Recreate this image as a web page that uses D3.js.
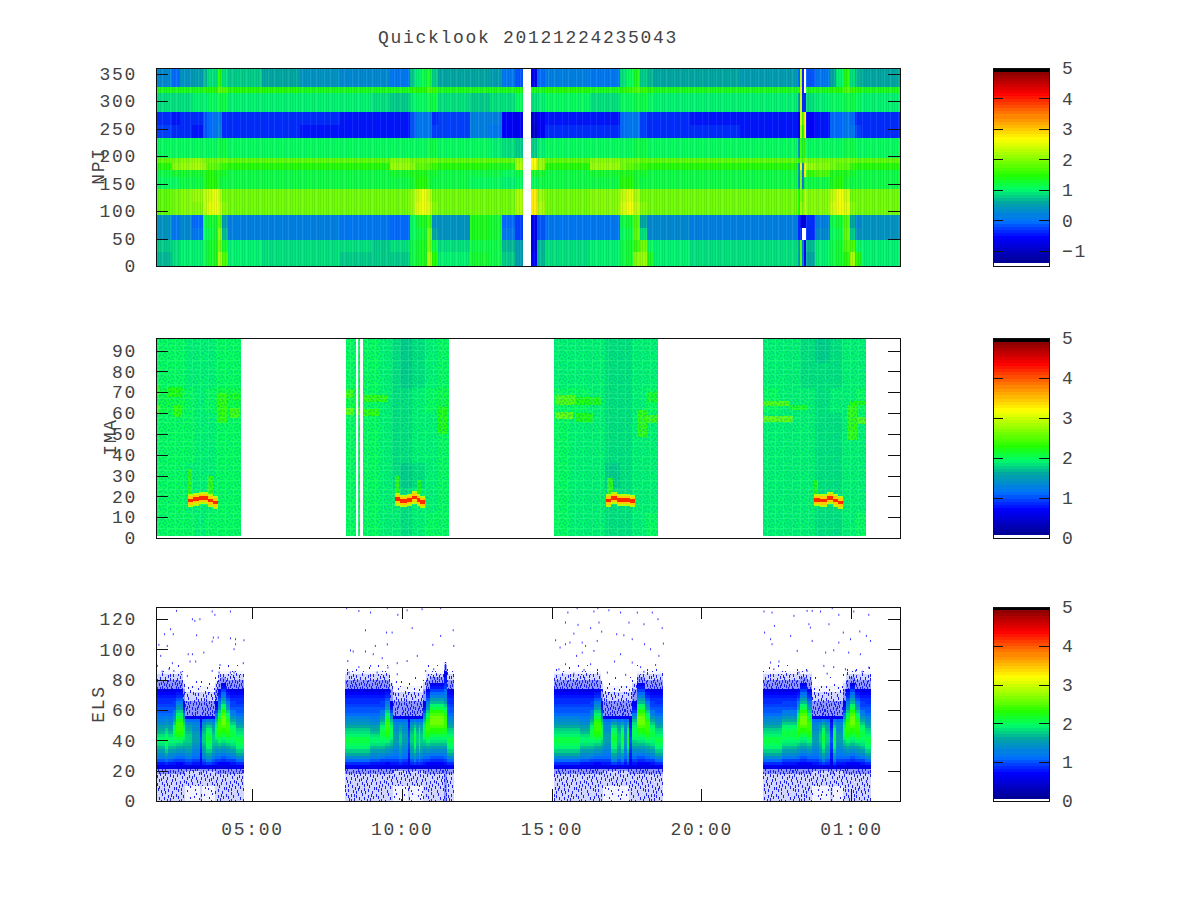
<!DOCTYPE html>
<html lang="en">
<head>
<meta charset="UTF-8">
<title>Quicklook 20121224235043</title>
<script src="https://d3js.org/d3.v7.min.js"></script>
<style>
  html, body { margin: 0; padding: 0; background: #fff; }
  svg { display: block; }
  text { font-family: "Liberation Mono", monospace; font-size: 18px; letter-spacing: 1.7px; fill: #444; }
  .axis path, .axis line { stroke: #111; stroke-width: 1px; shape-rendering: crispEdges; }
  .cells rect { shape-rendering: crispEdges; }
</style>
</head>
<body>
<div id="chart"></div>
<script>
// time axis, in hours from the start of the first day (25 = 01:00 next day)
const hourDomain = [1.79, 26.64];
const hourTicks = [5, 10, 15, 20, 25];
const hourLabels = ["05:00", "10:00", "15:00", "20:00", "01:00"];

const npiTicks = [0, 50, 100, 150, 200, 250, 300, 350];
const imaTicks = [0, 10, 20, 30, 40, 50, 60, 70, 80, 90];
const elsTicks = [0, 20, 40, 60, 80, 100, 120];
const npiBarTicks = [-1, 0, 1, 2, 3, 4, 5];
const barTicks = [0, 1, 2, 3, 4, 5];

// palette, position along the colour bar -> colour
const paletteStops = [0.015, 0.15, 0.23, 0.32, 0.39, 0.46, 0.535, 0.645, 0.75, 0.87, 0.98];
const paletteColours = ["#000090", "#0000ff", "#0070ff", "#00a8a0", "#00ff66", "#20ff00", "#7fff00", "#ffff00", "#ff9000", "#ff0000", "#8b0000"];

// NPI: row edges, column edges, then one list per column (bottom row first)
const npiRowEdges = [0, 25, 47, 70, 93, 117, 140, 162, 175, 187, 196, 233, 256, 280, 315, 325, 360];
const npiColEdges = [1.79, 2.33, 2.60, 3.00, 3.36, 3.50, 3.70, 3.86, 4.00, 4.20, 5.33, 6.60, 7.94, 9.01, 9.61, 10.28, 10.44,
  10.64, 10.84, 11.01, 11.21, 12.28, 12.95, 13.35, 13.78, 14.05, 14.32, 14.52, 14.78, 16.29, 17.29, 17.49, 17.72, 17.95,
  18.19, 18.39, 19.62, 21.29, 23.23, 23.30, 23.36, 23.43, 23.50, 23.80, 24.30, 24.50, 24.74, 24.97, 25.13, 25.33, 26.64];
const npiGap = new Array(16).fill(null);
const npiCells = [
  [.72,.75,.35,.35,1.85,1.85,1.05,1.15,1.45,1.8,1.05,-.2,-.3,.85,1.35,.3],
  [.88,.85,.1,.05,1.95,1.95,1.1,1.25,2.05,1.95,1.05,-.3,-.4,.9,1.35,.0],
  [.95,.95,.3,.25,2.0,2.05,1.15,1.3,2.15,2.05,1.05,-.35,-.35,.9,1.35,.35],
  [1.0,1.0,.05,.0,2.0,2.1,1.2,1.3,2.2,2.1,1.05,-.4,-.35,.95,1.4,.45],
  [1.2,1.15,1.1,1.15,2.3,2.3,1.4,1.35,2.0,1.95,1.05,-.1,-.1,1.0,1.45,.7],
  [1.3,1.3,1.2,1.25,2.55,2.45,1.5,1.45,1.85,1.95,1.1,.0,.0,1.05,1.5,.85],
  [1.4,1.35,1.25,1.3,2.6,2.6,1.5,1.4,1.8,1.95,1.1,.05,.05,1.05,1.5,.9],
  [2.2,1.9,2.0,1.7,2.45,2.3,1.3,1.35,1.7,1.95,1.2,.15,.1,1.2,1.8,1.5],
  [1.7,1.25,.7,.45,2.05,1.95,1.2,1.25,1.55,1.9,1.15,-.3,-.35,1.2,1.7,.9],
  [.95,.95,.2,.2,1.9,1.9,1.15,1.2,1.5,1.85,1.1,-.35,-.35,1.0,1.45,.75],
  [.88,.88,.15,.15,1.9,1.9,1.15,1.2,1.5,1.85,1.1,-.35,-.35,1.0,1.45,.6],
  [.85,.85,.15,.15,1.9,1.9,1.15,1.2,1.5,1.85,1.1,-.4,-.35,.95,1.4,.4],
  [.82,.85,.1,.1,1.9,1.9,1.15,1.2,1.5,1.85,1.1,-.4,-.4,.95,1.4,.3],
  [.8,.82,.05,.05,1.9,1.9,1.15,1.2,1.5,1.85,1.1,-.4,-.4,.85,1.35,.25],
  [.8,.85,.0,.0,1.95,1.95,1.15,1.3,2.1,2.05,1.1,-.45,-.45,.75,1.35,.1],
  [1.2,1.15,1.1,1.1,2.1,2.1,1.3,1.35,2.0,1.95,1.05,-.1,-.1,.95,1.45,.8],
  [1.3,1.25,1.2,1.25,2.5,2.4,1.45,1.4,1.85,1.95,1.1,.05,.05,1.1,1.5,.95],
  [1.4,1.35,1.3,1.35,2.6,2.6,1.5,1.4,1.8,1.95,1.1,.1,.1,1.1,1.5,1.15],
  [2.2,1.9,1.9,1.6,2.4,2.3,1.3,1.3,1.7,1.95,1.2,.1,.1,1.2,1.65,1.3],
  [1.45,1.2,.55,.4,2.0,1.95,1.2,1.25,1.55,1.9,1.15,-.25,-.3,1.15,1.6,.8],
  [.95,.9,.35,.4,1.9,1.9,1.15,1.2,1.5,1.85,1.1,-.25,-.2,.9,1.4,.55],
  [1.25,1.2,1.35,1.35,1.9,1.95,1.1,1.2,1.45,1.8,1.05,.15,.15,.8,1.35,.6],
  [1.2,1.15,1.3,1.3,1.9,1.9,1.05,1.15,1.4,1.75,1.0,.1,.15,.85,1.35,.5],
  [.75,.7,.05,.0,1.9,1.9,1.0,1.1,1.35,1.8,.85,-.5,-.5,.9,1.35,.05],
  [.5,.5,-.2,-.2,2.2,2.2,1.05,1.2,2.2,2.15,.75,-.65,-.65,1.05,1.5,-.15],
  npiGap,
  [-.5,-.7,-.6,-.6,2.8,2.8,1.1,1.3,2.6,2.7,.8,-.9,-.8,.9,1.35,-.6],
  [.7,.7,-.1,-.1,2.2,2.15,1.15,1.25,2.1,2.1,1.0,-.55,-.55,1.0,1.4,-.05],
  [.88,.88,.1,.1,1.9,1.9,1.15,1.2,1.5,1.85,1.1,-.35,-.4,1.05,1.45,.2],
  [.95,.95,.1,.1,2.05,2.05,1.2,1.3,2.1,2.05,1.1,-.3,-.4,.9,1.4,.1],
  [1.2,1.2,1.05,1.15,2.45,2.35,1.45,1.4,1.95,1.95,1.1,.0,.0,1.05,1.5,.85],
  [1.3,1.25,1.2,1.3,2.6,2.55,1.5,1.4,1.8,1.95,1.1,.05,.05,1.1,1.55,1.1],
  [2.0,1.6,1.8,1.7,2.3,2.2,1.3,1.3,1.65,1.9,1.15,.1,.1,1.2,1.7,1.4],
  [2.1,1.9,.85,.55,2.0,1.95,1.2,1.25,1.55,1.85,1.15,-.2,-.25,1.15,1.6,.8],
  [1.35,1.05,.3,.25,1.9,1.9,1.15,1.2,1.5,1.85,1.1,-.3,-.3,1.05,1.45,.65],
  [.95,.95,.25,.25,1.9,1.9,1.15,1.2,1.5,1.85,1.1,-.3,-.35,1.0,1.4,.55],
  [.92,.92,.2,.2,1.9,1.9,1.15,1.2,1.5,1.85,1.1,-.35,-.4,.95,1.4,.55],
  [.88,.88,.15,.15,1.9,1.9,1.15,1.2,1.5,1.85,1.1,-.4,-.4,.95,1.4,.5],
  [.5,.6,-.3,-.3,1.5,1.5,.4,.5,.5,1.5,.4,-.6,-.6,.5,1.4,.0],
  [1.7,1.7,-.3,-.6,2.1,1.9,1.9,1.9,2.6,1.9,1.6,2.2,2.4,2.4,2.6,2.3],
  [.2,.2,null,-.7,1.9,1.8,.2,.2,.2,1.7,1.3,1.5,1.8,-.3,-.3,-.3],
  [-.5,-.5,null,-.7,2.3,2.3,1.2,2.7,2.7,2.0,1.6,2.6,2.7,-.3,null,null],
  [.6,.7,-.3,-.3,2.0,2.0,1.15,1.6,2.1,1.95,1.05,-.5,-.5,.9,1.4,-.1],
  [.95,1.0,.25,.2,2.05,2.05,1.2,1.7,2.0,1.95,1.05,-.4,-.4,.95,1.4,.05],
  [1.2,1.2,1.05,1.15,2.4,2.3,1.35,1.35,1.95,1.95,1.1,-.05,-.05,1.05,1.5,.6],
  [1.3,1.25,1.2,1.3,2.6,2.6,1.5,1.4,1.85,1.95,1.1,.0,.0,1.1,1.5,.95],
  [1.45,1.7,1.85,1.7,2.5,2.4,1.3,1.35,1.75,1.95,1.15,.1,.05,1.2,1.7,1.5],
  [2.2,1.7,.75,.55,2.0,1.95,1.2,1.25,1.55,1.9,1.15,.05,.0,1.15,1.6,.9],
  [1.45,1.1,.35,.3,1.9,1.9,1.15,1.2,1.5,1.85,1.1,-.25,-.3,1.05,1.45,.7],
  [.95,.95,.35,.35,1.9,1.9,1.15,1.2,1.5,1.85,1.1,-.35,-.35,.95,1.4,.6]
];

// IMA: coarse background, one [start, end] per column, one list per column
const imaRowEdges = [1, 12, 24, 36, 48, 60, 72, 84, 96];
const imaColSpans = [
  [1.79,2.26],[2.26,2.76],[2.76,3.10],[3.10,3.43],[3.43,3.76],[3.76,4.20],[4.20,4.63],
  [8.14,8.47],[8.55,8.61],[8.71,9.27],[9.27,9.67],[9.67,9.94],[9.94,10.34],[10.34,10.78],[10.78,11.21],[11.21,11.59],
  [15.10,15.62],[15.62,16.29],[16.29,16.79],[16.79,17.29],[17.29,17.69],[17.69,18.12],[18.12,18.57],
  [22.08,22.63],[22.63,23.30],[23.30,23.80],[23.80,24.30],[24.30,24.70],[24.70,25.13],[25.13,25.50]
];
const imaCells = [
  [2.0,2.0,2.0,2.0,2.0,2.05,2.0,2.0],[2.0,2.0,2.0,2.0,2.0,2.05,2.0,1.98],
  [1.98,1.95,1.95,1.98,1.98,1.98,1.95,1.95],[1.95,1.92,1.9,1.9,1.9,1.9,1.9,1.88],
  [1.98,1.95,1.95,1.95,1.95,1.98,1.95,1.92],[2.0,2.0,2.0,2.0,2.0,2.05,2.0,1.98],[2.0,2.0,2.0,2.0,2.0,2.1,2.0,2.0],
  [2.0,2.0,2.0,2.0,2.0,2.1,2.0,2.0],[2.0,2.0,2.0,2.0,2.0,2.1,2.0,2.0],
  [1.98,1.98,1.98,1.98,1.98,2.0,1.98,1.98],[1.95,1.95,1.92,1.92,1.92,1.95,1.92,1.92],
  [1.9,1.88,1.85,1.85,1.85,1.85,1.85,1.82],[1.82,1.8,1.78,1.8,1.8,1.8,1.78,1.75],
  [1.9,1.88,1.85,1.88,1.88,1.88,1.85,1.85],[1.98,1.95,1.95,1.95,1.95,1.98,1.95,1.95],[2.0,1.98,1.98,1.98,2.0,2.05,1.98,1.98],
  [1.98,1.98,1.98,1.98,1.98,2.0,1.95,1.95],[1.95,1.95,1.95,1.95,1.95,1.98,1.95,1.92],
  [1.9,1.9,1.88,1.88,1.9,1.9,1.88,1.88],[1.8,1.8,1.78,1.8,1.8,1.8,1.8,1.8],
  [1.82,1.8,1.8,1.82,1.8,1.82,1.82,1.82],[1.9,1.9,1.9,1.9,1.9,1.92,1.9,1.9],[1.98,1.95,1.95,1.95,1.95,2.0,1.95,1.95],
  [1.95,1.95,1.95,1.95,1.95,2.0,1.95,1.92],[1.92,1.92,1.92,1.92,1.92,1.95,1.92,1.9],
  [1.88,1.88,1.88,1.88,1.88,1.88,1.85,1.85],[1.8,1.8,1.8,1.82,1.82,1.82,1.82,1.78],
  [1.85,1.85,1.85,1.85,1.85,1.88,1.85,1.85],[1.92,1.9,1.9,1.9,1.92,1.95,1.9,1.9],[1.98,1.95,1.95,1.95,1.95,2.0,1.95,1.95]
];
// IMA: brighter patches, [start hour, end hour, low, high, value]
const imaPatches = [
  [1.79,1.93,68.7,73.5,2.35],[1.79,1.93,59.9,63.9,2.5],[2.2,2.66,67.9,72.7,2.3],[2.36,2.66,58.3,63.9,2.35],
  [3.86,4.16,55,69.5,2.35],[4.26,4.6,66.3,69.5,2.25],[4.26,4.6,57.5,62.3,2.45],
  [2.87,3.0,21,33,2.35],[3.5,3.69,21,30,2.35],
  [8.14,8.37,67,71,2.45],[8.14,8.41,59,62.3,2.65],[8.55,8.61,59,62.3,2.65],[8.71,9.54,65.5,68.7,2.35],[8.71,9.27,58.6,61.8,2.4],
  [11.21,11.54,50,63,2.3],[9.77,9.9,21,30,2.35],[10.55,10.65,21,28,2.3],
  [15.12,15.79,63.9,68.7,2.5],[15.12,15.73,57,60.7,2.65],[15.79,16.68,63.9,67.9,2.3],[15.79,16.4,55.9,59.9,2.3],
  [17.85,18.18,48.7,61.5,2.4],[18.18,18.52,55,59,2.45],[18.18,18.52,65.5,70,2.2],[16.85,17.05,21,29,2.35],
  [22.08,22.97,63.4,66,2.5],[22.08,23.08,55.9,58.6,2.65],[22.97,23.52,61.5,63.9,2.25],
  [24.86,25.19,47,63.9,2.35],[25.19,25.47,54.8,58,2.5],[24.97,25.47,63.9,66,2.3],[23.77,23.9,21,28,2.3]
];
// IMA: centre of the hot ridge near 18, [hour, centre]
const imaRidge = [
  [[2.87,18],[3.04,18.6],[3.21,19.1],[3.37,19.1],[3.54,18],[3.69,17]],
  [[9.77,18.6],[9.94,17.7],[10.16,18.3],[10.33,19.4],[10.5,18.3],[10.61,17.3]],
  [[16.81,18],[16.98,19.1],[17.2,18.3],[17.4,18.3],[17.62,17.8]],
  [[23.77,18.3],[23.97,18],[24.19,19.1],[24.41,18],[24.58,17]]
];
const ridgeHalfWidths = [3, 2, 0.9];
const ridgeValues = [2.9, 3.5, 4.2];

// ELS: row edges, named profiles (bottom row first). Below 0.5 means scattered counts
const elsRowEdges = [0,5,10,15,18,20,21,22,23,24,26,28,30,32,34,36,38,40,42,44,46,48,50,52,54,56,58,60,62,64,66,68,70,72,74,76,78,80,82,84,86,88,90,92];
const elsProfiles = {
  base:      [.3,.3,.3,.3,.4,.45,.6,.65,.7,.85,1.05,1.25,1.4,1.55,1.7,1.8,1.88,1.88,1.8,1.7,1.6,1.5,1.4,1.3,1.22,1.15,1.08,1.02,.97,.92,.86,.8,.72,.62,.45,.45,.4,.3,.25,.15,.1,.05,0],
  baseHi:    [.3,.3,.3,.3,.4,.45,.6,.65,.72,.9,1.15,1.4,1.6,1.75,1.9,2.0,2.05,2.05,1.95,1.85,1.72,1.6,1.48,1.35,1.25,1.15,1.08,1.02,.97,.92,.86,.8,.72,.62,.45,.45,.4,.3,.25,.15,.1,.05,0],
  shoulder:  [.3,.3,.3,.3,.4,.45,.58,.62,.68,.82,1.0,1.2,1.35,1.5,1.65,1.8,1.92,2.0,2.05,2.05,2.0,1.9,1.75,1.6,1.45,1.3,1.18,1.08,1.0,.95,.88,.8,.72,.62,.45,.45,.4,.3,.25,.15,.1,.05,0],
  peak:      [.3,.3,.3,.3,.4,.45,.55,.6,.65,.78,.95,1.15,1.3,1.45,1.6,1.75,1.9,2.05,2.2,2.3,2.38,2.4,2.35,2.25,2.1,1.95,1.75,1.55,1.35,1.2,1.05,.92,.8,.68,.45,.45,.4,.3,.25,.15,.1,.05,0],
  bigPeak:   [.3,.3,.3,.3,.35,.4,.5,.55,.6,.72,.9,1.05,1.2,1.35,1.5,1.65,1.8,1.95,2.05,2.2,2.3,2.45,2.6,2.65,2.6,2.45,2.3,2.1,1.9,1.7,1.5,1.3,1.15,1.0,.85,.7,.45,.35,.25,.15,.1,.05,0],
  plateau:   [.2,.2,.25,.25,.3,.35,.5,.55,.65,.8,.95,1.1,1.2,1.3,1.4,1.48,1.55,1.55,1.5,1.45,1.4,1.35,1.28,1.1,.7,.45,.45,.4,.4,.35,.3,.3,.25,.2,.15,.1,.1,.05,0,0,0,0,0],
  plateauMid:[.2,.2,.25,.25,.3,.35,.5,.55,.68,.88,1.05,1.25,1.38,1.5,1.6,1.68,1.75,1.78,1.72,1.65,1.58,1.5,1.38,1.15,.7,.45,.45,.4,.4,.35,.3,.3,.25,.2,.15,.1,.1,.05,0,0,0,0,0],
  plateauHi: [.2,.2,.25,.25,.3,.35,.5,.6,.75,1.0,1.25,1.45,1.6,1.75,1.9,2.0,2.1,2.15,2.1,2.0,1.9,1.75,1.55,1.25,.75,.45,.45,.4,.4,.35,.3,.3,.25,.2,.15,.1,.1,.05,0,0,0,0,0],
  dark:      [.3,.3,.3,.3,.4,.45,.55,.6,.65,.7,.75,.8,.85,.9,.95,1.0,1.05,1.05,1.0,.95,.9,.85,.8,.7,.6,.45,.45,.4,.4,.35,.3,.3,.25,.2,.15,.1,.1,.05,0,0,0,0,0],
  fadeUp:    [.25,.25,.3,.3,.35,.4,.52,.58,.65,.8,.98,1.15,1.28,1.4,1.52,1.65,1.78,1.9,1.98,2.0,1.98,1.9,1.8,1.65,1.45,1.2,1.0,.85,.72,.6,.45,.45,.4,.35,.3,.25,.15,.1,.05,0,0,0,0],
  spike:     [.4,.4,.4,.4,.45,.45,.55,.6,.65,.8,.95,1.1,1.25,1.4,1.55,1.7,1.8,1.95,2.05,2.15,2.25,2.35,2.4,2.4,2.35,2.25,2.1,1.95,1.75,1.55,1.4,1.3,1.2,1.1,1.0,.9,.85,.8,.7,.6,.45,.4,.3]
};
// ELS: [start hour, end hour, profile]
const elsColumns = [
  [1.79,2.10,"base"],[2.10,2.20,"baseHi"],[2.20,2.36,"base"],[2.36,2.46,"shoulder"],[2.46,2.68,"peak"],[2.68,2.76,"fadeUp"],
  [2.76,3.0,"plateauMid"],[3.0,3.26,"plateau"],[3.26,3.33,"dark"],[3.33,3.45,"plateauMid"],[3.45,3.66,"plateauHi"],[3.66,3.76,"plateauMid"],
  [3.76,3.86,"fadeUp"],[3.86,3.95,"peak"],[3.95,4.12,"bigPeak"],[4.12,4.25,"peak"],[4.25,4.45,"shoulder"],[4.45,4.73,"baseHi"],
  [8.11,8.55,"baseHi"],[8.55,8.94,"baseHi"],[8.94,9.27,"base"],[9.27,9.45,"shoulder"],[9.45,9.6,"peak"],[9.6,9.71,"fadeUp"],
  [9.71,9.9,"plateau"],[9.9,10.0,"plateauMid"],[10.0,10.21,"plateau"],[10.21,10.28,"dark"],[10.28,10.4,"plateauMid"],[10.4,10.46,"plateauHi"],
  [10.46,10.56,"plateauMid"],[10.56,10.62,"plateauHi"],[10.62,10.71,"plateauMid"],[10.71,10.82,"fadeUp"],[10.82,10.95,"peak"],
  [10.95,11.41,"bigPeak"],[11.41,11.5,"spike"],[11.5,11.73,"baseHi"],
  [15.08,15.95,"baseHi"],[15.95,16.29,"base"],[16.29,16.42,"shoulder"],[16.42,16.64,"peak"],[16.64,16.72,"fadeUp"],[16.72,17.0,"plateau"],
  [17.0,17.2,"plateauHi"],[17.2,17.32,"plateauMid"],[17.32,17.42,"plateauHi"],[17.42,17.52,"plateau"],[17.52,17.6,"plateauHi"],[17.6,17.7,"dark"],
  [17.7,17.85,"fadeUp"],[17.85,18.12,"bigPeak"],[18.12,18.28,"peak"],[18.28,18.46,"shoulder"],[18.46,18.71,"baseHi"],
  [22.06,22.7,"baseHi"],[22.7,22.96,"shoulder"],[22.96,23.2,"shoulder"],[23.2,23.3,"peak"],[23.3,23.52,"bigPeak"],[23.52,23.7,"peak"],
  [23.7,23.95,"plateau"],[23.95,24.05,"plateauMid"],[24.05,24.15,"plateauHi"],[24.15,24.3,"plateauMid"],[24.3,24.4,"dark"],[24.4,24.5,"plateauHi"],
  [24.5,24.73,"plateau"],[24.73,24.85,"fadeUp"],[24.85,24.97,"peak"],[24.97,25.14,"bigPeak"],[25.14,25.3,"peak"],[25.3,25.48,"shoulder"],[25.48,25.68,"baseHi"]
];
// ELS: the isolated counts above the main band, [hour, ELS]
const elsPoints = [
  [2.46,126.1],[3.65,125.7],[3.74,123.5],[4.26,125.7],[2.99,120.6],[3.07,119.5],[3.24,120.6],[2.26,114],[2.35,110.7],[2.06,110.7],
  [3.13,110],[3.69,108.5],[3.85,108.5],[4.26,108],[4.43,107.4],[4.71,106.7],[3.65,105.9],[4.43,104.1],[1.87,103.7],[2.15,103],
  [2.85,97.5],[2.99,97.5],[3.37,98.6],[4.38,100.8],[1.93,96.4],[2.91,92.7],[3.10,92.7],[2.32,91.6],[3.91,90.4],[4.69,91.6],
  [1.82,89.8],[2.21,87.6],[2.37,86.5],[2.60,85.4],[1.98,86.1],[3.65,86.5],[3.88,85.4],[4.26,85.4],[4.38,85.4],[2.82,83.2],
  [8.55,126],[8.94,125],[9.85,123.5],[10.16,126.5],[10.66,127.2],[11.28,127.9],[8.14,127.9],[9.5,127.9],[8.77,113.3],[9.47,111.8],
  [9.66,111.8],[10.33,114.7],[11.28,109.6],[11.7,113.3],[8.27,100],[8.36,99.3],[8.77,99.3],[9.1,103],[9.5,104],[11.02,103.7],
  [11.72,103],[9.03,97.5],[10.5,96.4],[8.18,93],[9.33,94.9],[9.83,91.6],[10.16,93],[8.55,89],[8.94,89.8],[9.52,88.7],
  [10.78,86.5],[11.05,87.6],[8.22,85.4],[9.16,85.4],[9.83,84.3],
  [15.53,125],[16.4,125.7],[16.9,126.5],[17.29,125],[17.85,125],[18.35,125],[15.84,127.9],[16.53,127.9],[15.45,118.4],[16.57,118.4],
  [17.57,118.4],[18.07,117.3],[18.54,120.6],[18.68,114.7],[15.87,116.9],[15.73,111.1],[16.66,112.4],[16.29,114.7],[17.16,110.7],[17.4,110],
  [17.68,107.4],[15.12,106.7],[15.6,105.2],[16.01,105.2],[16.51,106.3],[18.09,104.1],[18.72,104.5],[15.45,104.1],[16.12,103],[18.29,100.8],
  [15.27,101.9],[16.4,99.7],[16.01,98.6],[17.29,97.5],[15.82,96.4],[18.57,96.4],[17.68,92],[17.09,92.7],[15.45,90.9],[16.29,90.9],
  [17.96,89],[18.46,90.4],[15.23,87.6],[16.07,87.2],[16.85,85.4],[17.46,83.9],[18.07,86],[15.73,84.7],
  [22.08,125.7],[22.35,125],[23.08,122.8],[23.52,126.1],[23.69,126.1],[23.97,125.7],[24.58,123.5],[25.08,125.7],[25.58,123.5],[24.36,127.9],
  [23.58,117.3],[23.63,115.1],[24.25,117.3],[22.43,116.2],[22.1,111.8],[24.73,111.8],[25.28,112.5],[22.3,107.4],[22.97,109.6],[23.69,106.3],
  [24.58,105.2],[24.97,107.4],[25.5,109.6],[25.64,106.3],[22.35,104.1],[23.19,99.7],[24.14,98.6],[24.41,100.1],[25.3,97.5],[24.91,98.6],
  [22.58,92.7],[22.3,92],[24.08,89.8],[24.41,89],[25.14,86.5],[25.36,86],[25.58,88.7],[22.41,87.6],[23.52,86.5],[24.19,84.7],[24.8,87.6],[23.25,85.4]
];
// dots of the repeating speckle tile
const speckleDots = [
  [3,2],[15,5],[9,11],[21,14],[5,19],[18,21],[12,1],[1,9],[23,7],[7,15],[16,12],[11,22],
  [20,2],[4,6],[13,8],[19,17],[8,20],[0,13],[22,23],[14,16],[6,3],[17,9],[10,5],[2,17],
  [24,19],[12,14],[5,10],[20,6],[15,23],[9,18],[3,22],[18,3],[22,11],[7,7],[14,20],[1,4],
  [11,10],[17,15],[6,23],[23,2],[2,12],[13,4],[19,12],[8,1],[16,18],[4,14],[21,20],[10,15],
  [0,20],[15,0],[6,12],[18,7],[12,18],[3,8],[22,16],[9,3],[20,23],[14,11],[1,16],[17,21]
];
const speckleCounts = [8, 22, 40, 60];
const speckleTints = [0, 0.06, 0.2, 0.5];
const speckleH = [2, 2, 3, 3];
// fine stripes over the NPI cells and lattice over the IMA cells
const stripeDark = [1, 4, 6, 10, 12];
const stripeLight = [2, 8];
const latticeCols = [0, 8, 17];
const latticeRows = [0, 9, 14];

const svg = d3.select("#chart").append("svg").attr("width", 1200).attr("height", 900);
const defs = svg.append("defs");

// the dot list is flipped and shifted to make a 50x48 tile, so it repeats less visibly
const fullTile = speckleDots.flatMap(d => [d, [d[0] + 25, 23 - d[1]], [24 - d[0], d[1] + 24], [49 - ((d[0] + 9) % 25), 47 - ((d[1] + 5) % 24)]]);
speckleCounts.forEach((n, i) => {
  const p = defs.append("pattern").attr("id", "speck" + (i + 1)).attr("patternUnits", "userSpaceOnUse")
    .attr("width", 50).attr("height", 48);
  p.append("rect").attr("width", 50).attr("height", 48).attr("fill", "#2030ff").attr("fill-opacity", speckleTints[i]);
  p.selectAll("rect.d").data(fullTile.slice(0, n * 4)).join("rect").attr("class", "d")
    .attr("x", d => d[0]).attr("y", d => d[1]).attr("width", 1).attr("height", speckleH[i]).attr("fill", "#1a20f0");
});

const stripes = defs.append("pattern").attr("id", "stripes").attr("patternUnits", "userSpaceOnUse").attr("width", 14).attr("height", 20);
stripeDark.forEach(s => stripes.append("rect").attr("x", s).attr("width", 1).attr("height", 20).attr("fill", "#002060").attr("fill-opacity", 0.09));
stripeLight.forEach(s => stripes.append("rect").attr("x", s).attr("width", 1).attr("height", 20).attr("fill", "#fff").attr("fill-opacity", 0.08));

const lattice = defs.append("pattern").attr("id", "lattice").attr("patternUnits", "userSpaceOnUse").attr("width", 25).attr("height", 24);
speckleDots.forEach(d => lattice.append("rect").attr("x", d[0]).attr("y", d[1]).attr("width", 2).attr("height", 2).attr("fill", "#0090a0").attr("fill-opacity", 0.25));
latticeCols.forEach(s => lattice.append("rect").attr("x", s).attr("width", 1).attr("height", 24).attr("fill", "#70ffb0").attr("fill-opacity", 0.2));
latticeRows.forEach(s => lattice.append("rect").attr("y", s).attr("width", 25).attr("height", 1).attr("fill", "#70ffb0").attr("fill-opacity", 0.2));

const x = d3.scaleLinear().domain(hourDomain).range([156, 900]);

const palette = d3.scaleLinear().domain(paletteStops).range(paletteColours).clamp(true);
const levels = d3.range(64).map(i => palette((i + 0.5) / 64));
const level = d3.scaleQuantize().domain([0, 1]).range(levels);
function colourAt(t) {
  if (t < 0.015) return "#fff";
  if (t > 0.983) return "#000";
  return level(t);
}

const panels = {
  npi: { label: "NPI", top: 68, bottom: 266, domain: [0, 360], ticks: npiTicks, range: [-1.5, 5], barTicks: npiBarTicks, labelX: 98, labelY: 166 },
  ima: { label: "IMA", top: 338, bottom: 538, domain: [0, 96], ticks: imaTicks, range: [0, 5], barTicks: barTicks, labelX: 110, labelY: 437 },
  els: { label: "ELS", top: 607, bottom: 801, domain: [0, 128], ticks: elsTicks, range: [0, 5], barTicks: barTicks, labelX: 98, labelY: 704 }
};
Object.values(panels).forEach(p => {
  p.y = d3.scaleLinear().domain(p.domain).range([p.bottom, p.top]);
  p.t = d3.scaleLinear().domain(p.range).range([0, 1]);
  p.g = svg.append("g").attr("class", "cells");
});

function cell(p, h0, h1, lo, hi, fill, opacity) {
  p.g.append("rect").attr("x", x(h0)).attr("width", x(h1) - x(h0))
    .attr("y", p.y(hi)).attr("height", p.y(lo) - p.y(hi)).attr("fill", fill)
    .attr("fill-opacity", opacity === undefined ? 1 : opacity);
}

// NPI
npiCells.forEach((col, c) => col.forEach((v, r) => {
  if (v === null) return;
  cell(panels.npi, npiColEdges[c], npiColEdges[c + 1], npiRowEdges[r], npiRowEdges[r + 1], colourAt(panels.npi.t(v)));
  cell(panels.npi, npiColEdges[c], npiColEdges[c + 1], npiRowEdges[r], npiRowEdges[r + 1], "url(#stripes)");
}));

// IMA
imaCells.forEach((col, c) => col.forEach((v, r) => {
  cell(panels.ima, imaColSpans[c][0], imaColSpans[c][1], imaRowEdges[r], imaRowEdges[r + 1], colourAt(panels.ima.t(v)));
}));
imaPatches.forEach(d => cell(panels.ima, d[0], d[1], d[2], d[3], colourAt(panels.ima.t(d[4])), 0.85));
imaColSpans.forEach(s => cell(panels.ima, s[0], s[1], 1, 96, "url(#lattice)"));
imaRidge.forEach(pass => pass.forEach((d, i) => {
  const end = i < pass.length - 1 ? pass[i + 1][0] : d[0] + 0.17;
  ridgeHalfWidths.forEach((w, k) => {
    cell(panels.ima, d[0], end, d[1] - w, d[1] + w, colourAt(panels.ima.t(ridgeValues[k])));
  });
}));

// ELS
elsColumns.forEach(d => elsProfiles[d[2]].forEach((v, r) => {
  if (v === 0) return;
  const fill = v < 0.5 ? "url(#speck" + Math.min(4, Math.max(1, Math.ceil(v * 10))) + ")" : colourAt(panels.els.t(v));
  cell(panels.els, d[0], d[1], elsRowEdges[r], elsRowEdges[r + 1], fill);
}));
svg.append("g").selectAll("rect").data(elsPoints).join("rect")
  .attr("x", d => x(d[0])).attr("y", d => panels.els.y(d[1]))
  .attr("width", 1).attr("height", 2).attr("fill", "#3a3aff");

// axes and colour bars
Object.values(panels).forEach(p => {
  const ax = svg.append("g").attr("class", "axis");
  ax.append("g").attr("transform", "translate(156,0)")
    .call(d3.axisLeft(p.y).tickValues(p.ticks).tickSize(-12).tickPadding(19).tickSizeOuter(0));
  ax.append("g").attr("transform", "translate(900,0)")
    .call(d3.axisRight(p.y).tickValues(p.ticks).tickSize(-12).tickFormat("").tickSizeOuter(0));
  ax.append("rect").attr("x", 156).attr("y", p.top).attr("width", 744).attr("height", p.bottom - p.top)
    .attr("fill", "none").attr("stroke", "#111").attr("shape-rendering", "crispEdges");
  ax.selectAll(".domain").attr("stroke", "none");

  // colour bar
  const cy = d3.scaleLinear().domain(p.range).range([p.bottom, p.top]);
  const bar = svg.append("g").attr("class", "cells");
  const steps = d3.range(0, 130).map(i => i / 130);
  bar.selectAll("rect").data(steps).join("rect")
    .attr("x", 993).attr("width", 56)
    .attr("y", d => p.bottom - (d + 1 / 130) * (p.bottom - p.top))
    .attr("height", (p.bottom - p.top) / 130 + 0.5)
    .attr("fill", d => colourAt(d + 0.5 / 130));
  const bx = svg.append("g").attr("class", "axis");
  bx.append("g").attr("transform", "translate(993,0)")
    .call(d3.axisLeft(cy).tickValues(p.barTicks).tickSize(-10).tickFormat("").tickSizeOuter(0));
  bx.append("g").attr("transform", "translate(1049,0)")
    .call(d3.axisRight(cy).tickValues(p.barTicks).tickSize(-10).tickPadding(13).tickSizeOuter(0).tickFormat(d3.format("d")));
  bx.selectAll(".domain").attr("stroke", "none");
  bx.append("rect").attr("x", 993).attr("y", p.top).attr("width", 56).attr("height", p.bottom - p.top)
    .attr("fill", "none").attr("stroke", "#111").attr("shape-rendering", "crispEdges");

  svg.append("text").attr("transform", `translate(${p.labelX},${p.labelY}) rotate(-90)`)
    .attr("text-anchor", "middle").attr("dy", "0.35em").text(p.label);
});

// time ticks only show on the bottom panel
const els = panels.els;
const tickGroup = svg.append("g").attr("class", "axis");
tickGroup.append("g").attr("transform", `translate(0,${els.bottom})`)
  .call(d3.axisBottom(x).tickValues(hourTicks).tickSize(-12).tickPadding(21).tickSizeOuter(0)
    .tickFormat((d, i) => hourLabels[i]));
tickGroup.append("g").attr("transform", `translate(0,${els.top})`)
  .call(d3.axisTop(x).tickValues(hourTicks).tickSize(-12).tickFormat("").tickSizeOuter(0));
tickGroup.selectAll(".domain").attr("stroke", "none");

svg.selectAll(".axis text").attr("font-size", 18).style("fill", "#444");

svg.append("text").attr("x", 528).attr("y", 43).attr("text-anchor", "middle").text("Quicklook 20121224235043");
</script>
</body>
</html>
